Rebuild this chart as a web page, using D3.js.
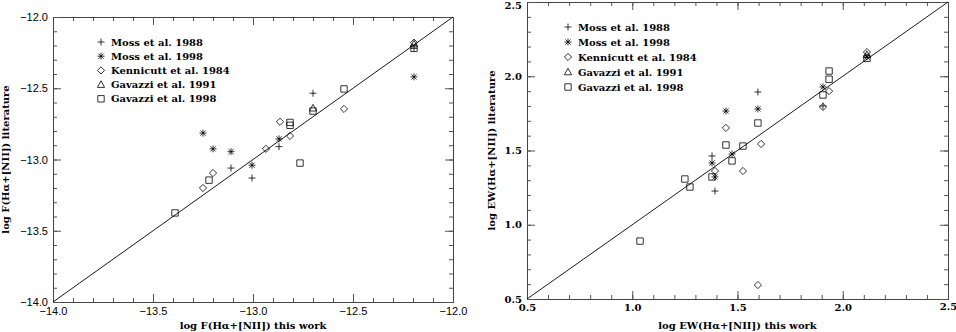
<!DOCTYPE html>
<html lang="en">
<head>
<meta charset="utf-8">
<title>Halpha comparison</title>
<script src="https://d3js.org/d3.v7.min.js"></script>
<style>
  body { margin: 0; background: #fff; }
  svg { display: block; }
  .ttl { font-family: "DejaVu Serif", serif; font-weight: bold; font-size: 10px; }
  .leg { font-family: "DejaVu Serif", serif; font-weight: bold; font-size: 10px; }
</style>
</head>
<body>
<svg id="fig" width="956" height="332"></svg>
<script>
'use strict';

// legend names, one per series
const seriesNames = ["Moss et al. 1988", "Moss et al. 1998", "Kennicutt et al. 1984",
                     "Gavazzi et al. 1991", "Gavazzi et al. 1998"];
const seriesSymbols = ["plus", "star", "diamond", "triangle", "square"];

// left panel: log F(Ha+[NII]), [this work, literature]
const moss88F = [[-13.11, -13.06], [-13.005, -13.13], [-12.87, -12.91], [-12.70, -12.535], [-12.195, -12.22]];
const moss98F = [[-13.25, -12.815], [-13.20, -12.925], [-13.11, -12.945], [-13.005, -13.04], [-12.87, -12.855], [-12.195, -12.42]];
const kenn84F = [[-13.25, -13.20], [-13.20, -13.095], [-12.935, -12.925], [-12.865, -12.735], [-12.815, -12.835], [-12.545, -12.645], [-12.195, -12.18]];
const gav91F = [[-12.70, -12.64], [-12.195, -12.19]];
const gav98F = [[-13.39, -13.375], [-13.22, -13.145], [-12.815, -12.74], [-12.815, -12.76], [-12.765, -13.025], [-12.70, -12.66], [-12.545, -12.505], [-12.195, -12.22]];

// right panel: log EW(Ha+[NII])
const moss88EW = [[1.379, 1.463], [1.393, 1.227], [1.597, 1.894], [1.906, 1.80]];
const moss98EW = [[1.379, 1.416], [1.393, 1.322], [1.445, 1.766], [1.474, 1.476], [1.597, 1.78], [1.906, 1.928], [2.115, 2.13]];
const kenn84EW = [[1.393, 1.362], [1.445, 1.652], [1.526, 1.362], [1.612, 1.544], [1.597, 0.594], [1.935, 1.90], [1.906, 1.793], [2.115, 2.163]];
const gav91EW = [[2.115, 2.145]];
const gav98EW = [[1.037, 0.89], [1.25, 1.308], [1.274, 1.254], [1.379, 1.322], [1.445, 1.537], [1.474, 1.43], [1.526, 1.53], [1.597, 1.685], [1.906, 1.874], [1.935, 1.98], [1.935, 2.035], [2.115, 2.12]];

// axis ticks
const fTicks = [-14.0, -13.5, -13.0, -12.5, -12.0];
const ewTicks = [0.5, 1.0, 1.5, 2.0, 2.5];

const svg = d3.select("#fig");

function symbolPath(kind) {
  const p = d3.path();
  if (kind === "plus" || kind === "star") {
    p.moveTo(-3.5, 0); p.lineTo(3.5, 0);
    p.moveTo(0, -3.5); p.lineTo(0, 3.5);
    if (kind === "star") {
      p.moveTo(-2.6, -2.6); p.lineTo(2.6, 2.6);
      p.moveTo(-2.6, 2.6); p.lineTo(2.6, -2.6);
    }
  } else if (kind === "diamond") {
    p.moveTo(0, -3.6); p.lineTo(3.6, 0); p.lineTo(0, 3.6); p.lineTo(-3.6, 0); p.closePath();
  } else if (kind === "triangle") {
    p.moveTo(0, -3.8); p.lineTo(3.6, 2.8); p.lineTo(-3.6, 2.8); p.closePath();
  } else {
    p.rect(-3.2, -3.2, 6.4, 6.4);
  }
  return p.toString();
}

function panel(o) {
  const x = d3.scaleLinear().domain(o.dom).range([o.x0, o.x1]);
  const y = d3.scaleLinear().domain(o.dom).range([o.y1, o.y0]);
  const g = svg.append("g");

  const minor = d3.range(o.dom[0], o.dom[1] + 1e-9, 0.1);
  const fmt = d3.format(".1f");
  const tickFmt = v => fmt(v).replace("-", "\u2212");

  const axB = d3.axisBottom(x).tickValues(o.ticks).tickSize(-8).tickFormat(tickFmt).tickPadding(5);
  const axT = d3.axisTop(x).tickValues(o.ticks).tickSize(-8).tickFormat("");
  const axL = d3.axisLeft(y).tickValues(o.ticks).tickSize(-8).tickFormat(tickFmt).tickPadding(5);
  const axR = d3.axisRight(y).tickValues(o.ticks).tickSize(-8).tickFormat("");
  const mB = d3.axisBottom(x).tickValues(minor).tickSize(-4).tickFormat("");
  const mT = d3.axisTop(x).tickValues(minor).tickSize(-4).tickFormat("");
  const mL = d3.axisLeft(y).tickValues(minor).tickSize(-4).tickFormat("");
  const mR = d3.axisRight(y).tickValues(minor).tickSize(-4).tickFormat("");

  [[mB, axB, `translate(0,${o.y1})`], [mT, axT, `translate(0,${o.y0})`],
   [mL, axL, `translate(${o.x0},0)`], [mR, axR, `translate(${o.x1},0)`]].forEach(a => {
    g.append("g").attr("transform", a[2]).call(a[0]);
    g.append("g").attr("transform", a[2]).call(a[1]);
  });
  g.selectAll(".domain").attr("stroke", "#444");
  g.selectAll(".tick line").attr("stroke", "#555");
  g.selectAll(".tick text").attr("fill", "#000")
    .style("font-family", o.tickFont).style("font-weight", o.tickWeight).style("font-size", o.tickSize);
  // keep the top y label inside the window
  g.selectAll(".tick text").filter(function () { return this.textContent === o.topLabel; })
    .attr("dy", o.topDy);

  // one-to-one line
  g.append("line")
    .attr("x1", x(o.dom[0])).attr("y1", y(o.dom[0]))
    .attr("x2", x(o.dom[1])).attr("y2", y(o.dom[1]))
    .attr("stroke", "#000").attr("stroke-width", 0.9);

  o.series.forEach((pts, i) => {
    g.append("g").selectAll("path").data(pts).join("path")
      .attr("transform", d => `translate(${x(d[0])},${y(d[1])})`)
      .attr("d", symbolPath(seriesSymbols[i]))
      .attr("fill", "none").attr("stroke", "#000").attr("stroke-width", 0.8);
  });

  // legend
  seriesNames.forEach((n, i) => {
    const ly = o.legY + i * o.legStep;
    g.append("path").attr("transform", `translate(${o.legX},${ly})`)
      .attr("d", symbolPath(seriesSymbols[i]))
      .attr("fill", "none").attr("stroke", "#000").attr("stroke-width", 0.8);
    g.append("text").attr("class", "leg").attr("x", o.legX + 10).attr("y", ly + 3.5).text(n);
  });

  g.append("text").attr("class", "ttl").attr("text-anchor", "middle")
    .attr("x", (o.x0 + o.x1) / 2).attr("y", 329).text(o.xTitle);
  g.append("text").attr("class", "ttl").attr("text-anchor", "middle")
    .attr("transform", `translate(${o.yTitleX},${(o.y0 + o.y1) / 2}) rotate(-90)`).text(o.yTitle);
}

panel({
  dom: [-14, -12], ticks: fTicks, x0: 53, x1: 453, y0: 17, y1: 302,
  series: [moss88F, moss98F, kenn84F, gav91F, gav98F],
  tickFont: "'Liberation Sans', Arial, sans-serif", tickWeight: "normal", tickSize: "11px",
  topLabel: "", topDy: "0.32em",
  legX: 101, legY: 42, legStep: 14.2,
  xTitle: "log F(H\u03b1+[NII]) this work", yTitle: "log F(H\u03b1+[NII]) literature", yTitleX: 9
});

panel({
  dom: [0.5, 2.5], ticks: ewTicks, x0: 527, x1: 948, y0: 2, y1: 299,
  series: [moss88EW, moss98EW, kenn84EW, gav91EW, gav98EW],
  tickFont: "'DejaVu Serif', serif", tickWeight: "bold", tickSize: "10px",
  topLabel: "2.5", topDy: "0.62em",
  legX: 568, legY: 27, legStep: 15,
  xTitle: "log EW(H\u03b1+[NII]) this work", yTitle: "log EW(H\u03b1+[NII]) literature", yTitleX: 495
});
</script>
</body>
</html>
